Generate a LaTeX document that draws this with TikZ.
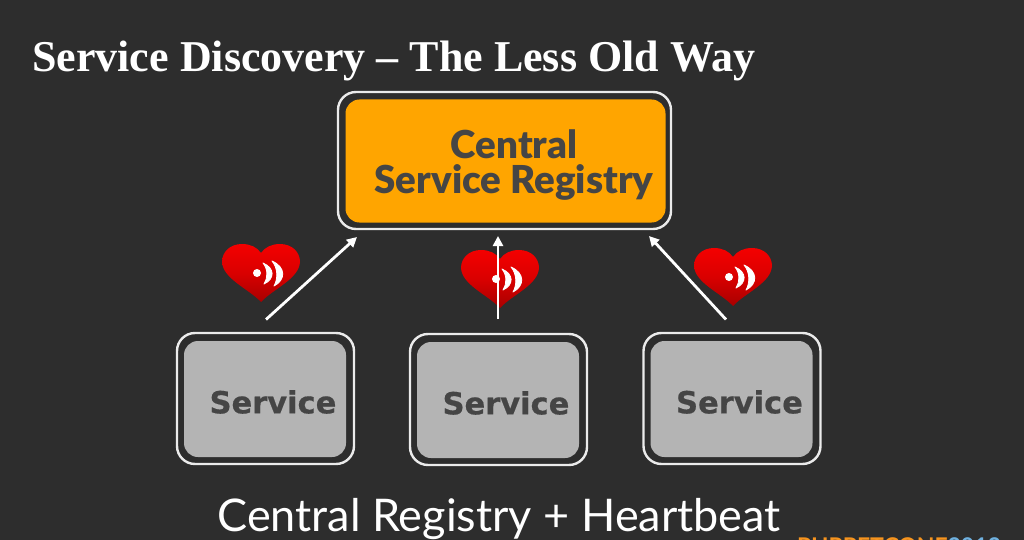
\documentclass[tikz,border=0pt]{standalone}
\usepackage{fontspec}
\setmainfont{Liberation Serif}
\newfontfamily\gillb{Lato}[BoldFont={Lato Black}]
\newfontfamily\capt{Lato}
\newfontfamily\servf{DejaVu Sans}[BoldFeatures={FakeBold=0.5}]
\definecolor{bgc}{HTML}{2D2D2D}
\definecolor{org}{HTML}{FFA500}
\definecolor{gry}{HTML}{B4B4B4}
\definecolor{txd}{HTML}{454545}
\definecolor{hearttop}{HTML}{F40000}
\definecolor{heartbot}{HTML}{A80000}
\definecolor{logoa}{HTML}{F7941E}
\definecolor{logob}{HTML}{6FB1E0}
\usetikzlibrary{arrows.meta}
\tikzset{
  x=1pt,y=-1pt,
  outerbox/.style={draw=white!92!black,line width=2.4pt,rounded corners=18pt,fill=bgc},
  regbox/.style={fill=org,draw=none,rounded corners=14pt,inner sep=0pt,outer sep=0pt},
  servbox/.style={fill=gry,draw=none,rounded corners=14pt,inner sep=0pt,outer sep=0pt},
  conn/.style={draw=white,line width=2.8pt,-{Triangle[length=10pt,width=10pt]}},
  wave/.style={fill=white,draw=white,line width=.8pt,line join=round},
}
\newcommand{\heartat}[3]{% name, x (centre), y (notch)
  \begin{scope}[shift={(#2,#3)}]
    \coordinate (#1) at (0,0);
    \shade[top color=hearttop,bottom color=heartbot,middle color=hearttop!65!heartbot]
      (0,0) .. controls (-4,-6) and (-11,-9) .. (-19,-9)
      .. controls (-31,-9) and (-39,-1) .. (-39,9)
      .. controls (-38,26) and (-12,36) .. (0,49)
      .. controls (12,36) and (38,26) .. (39,9)
      .. controls (39,-1) and (31,-9) .. (19,-9)
      .. controls (11,-9) and (4,-6) .. (0,0) -- cycle;
    \fill[white] (-4,20) circle (4);
    \fill[wave] (2,10) .. controls (14,15) and (14,26) .. (3,31) .. controls (7,25) and (7,16) .. (2,10) -- cycle;
    \fill[wave] (11,8) .. controls (25,14) and (25,27) .. (13,33) .. controls (17,26) and (17,15) .. (11,8) -- cycle;
  \end{scope}}
\begin{document}
\begin{tikzpicture}
\useasboundingbox (0,0) rectangle (1024,540);
\fill[bgc] (0,0) rectangle (1024,540);
% registry
\draw[outerbox] (338,92) rectangle (671,229);
\node[regbox,minimum width=320pt,minimum height=123pt] (reg) at (505.5,161) {};
\node[font=\gillb\bfseries\fontsize{38.5}{44}\selectfont,text=txd,anchor=center] (regt1) at (514,144) {Central};
\node[font=\gillb\bfseries\fontsize{38.5}{44}\selectfont,text=txd,anchor=center] (regt2) at (514,182) {Service Registry};
% services
\foreach \n/\cx/\off in {a/265.5/0,b/498.5/1,c/732/0}{
  \pgfmathsetmacro{\dy}{\off}
  \draw[outerbox] (\cx-88.5,333+\dy) rectangle (\cx+88.5,464+\dy);
  \node[servbox,minimum width=162pt,minimum height=116pt] (s\n) at (\cx-0.5,399+\dy) {};
  \node[font=\servf\bfseries\fontsize{30.5}{34}\selectfont,text=txd] (t\n) at (\cx+7.5,402+\dy) {Service};
}
% hearts
\heartat{ha}{261}{253}
\heartat{hb}{500}{259}
\heartat{hc}{733}{257}
% connectors
\coordinate (a1) at (266,319.5);
\coordinate (a2) at (357,237);
\coordinate (b1) at (498,319);
\coordinate (b2) at (498,236);
\coordinate (c1) at (726,319.5);
\coordinate (c2) at (649,236);
\draw[conn] (a1) -- (a2);
\draw[conn] (b1) -- (b2);
\draw[conn] (c1) -- (c2);
% titles
\node[font=\bfseries\fontsize{44}{50}\selectfont,text=white,anchor=base west,inner sep=0pt] (title) at (32,72) {Service Discovery – The Less Old Way};
\node[font=\capt\fontsize{45}{50}\selectfont,text=white,anchor=base,inner sep=0pt] (cap) at (499,531) {Central Registry + Heartbeat};
\begin{scope}
\clip (0,0) rectangle (1024,540);
\node[font=\capt\bfseries\fontsize{23}{26}\selectfont,anchor=base west,inner sep=0pt] (logo) at (797,554) {\textcolor{logoa}{PUPPETCONF}\textcolor{logob}{2013}};
\end{scope}
\end{tikzpicture}
\end{document}
